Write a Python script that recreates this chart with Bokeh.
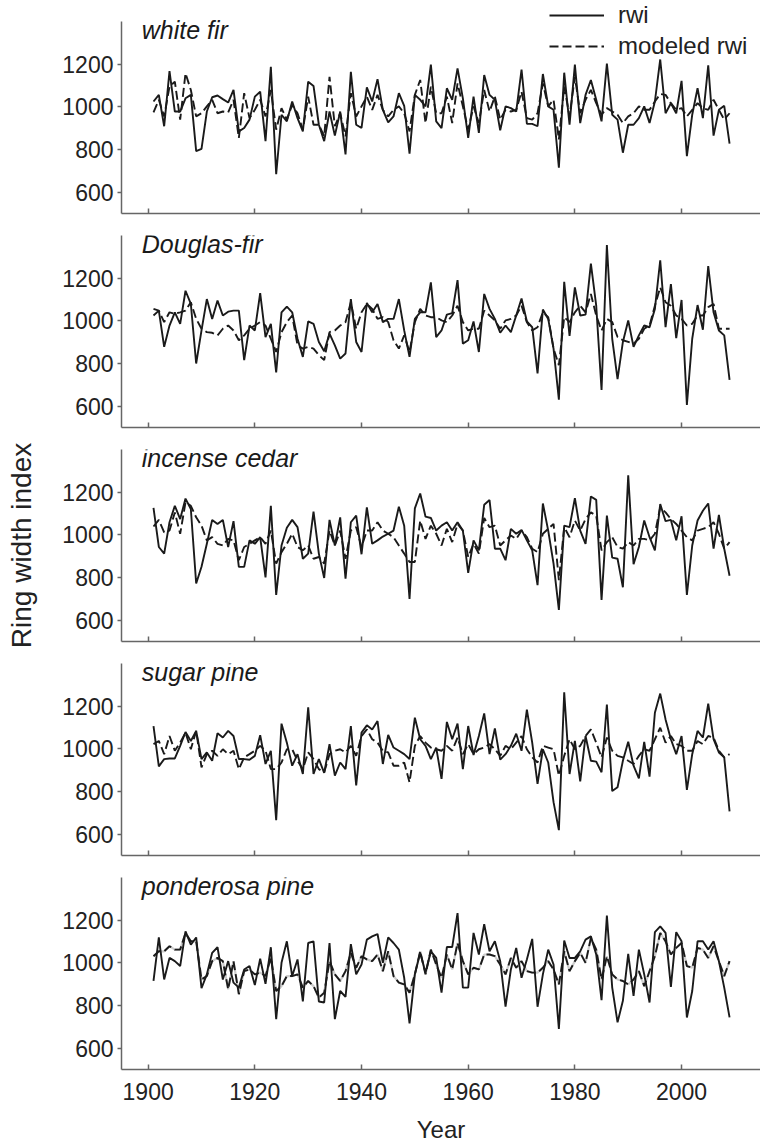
from bokeh.plotting import figure
from bokeh.models import FixedTicker, Label, Legend, LegendItem, Range1d
from bokeh.layouts import column
from bokeh.embed import file_html
from bokeh.resources import INLINE

years = list(range(1901, 2010))

species = ["white fir", "Douglas-fir", "incense cedar", "sugar pine", "ponderosa pine"]

white_fir_rwi = [1025, 1056, 909, 1167, 978, 978, 1040, 1056, 792, 803,
                 978, 1045, 1053, 1036, 1020, 1079, 885, 901, 940, 1048,
                 1071, 839, 1188, 684, 963, 932, 1025, 947, 885, 1118,
                 1098, 916, 839, 978, 865, 978, 777, 1164, 916, 901,
                 1091, 1025, 1130, 986, 927, 955, 1064, 1005, 781, 1056,
                 1033, 1002, 1198, 932, 900, 1087, 1033, 1180, 1040, 854,
                 1048, 878, 1149, 1056, 1033, 890, 1002, 994, 978, 1175,
                 921, 920, 909, 1154, 1002, 986, 715, 1160, 916, 1198,
                 924, 1056, 1126, 1033, 932, 1203, 963, 940, 785, 916,
                 916, 947, 1002, 924, 1025, 1222, 970, 1017, 970, 1122,
                 769, 963, 1087, 947, 1195, 865, 986, 1005, 828]
white_fir_mod = [974, 1033, 955, 1095, 1118, 940, 1157, 1079, 955, 970,
                 1002, 1033, 970, 978, 974, 1033, 854, 1064, 947, 986,
                 1033, 955, 1079, 893, 994, 940, 1009, 970, 893, 1048,
                 916, 916, 862, 1141, 909, 970, 862, 1064, 955, 1002,
                 1048, 986, 1056, 986, 955, 986, 1002, 970, 885, 1056,
                 1126, 924, 1095, 970, 970, 1048, 924, 1110, 1002, 893,
                 1002, 924, 1079, 978, 1048, 940, 986, 978, 986, 1071,
                 947, 940, 970, 1110, 1002, 1033, 847, 1095, 955, 1141,
                 970, 1033, 1079, 1017, 963, 994, 978, 963, 924, 955,
                 970, 1002, 986, 986, 1025, 1060, 1056, 1017, 986, 994,
                 955, 986, 1017, 994, 986, 1033, 986, 940, 970]

douglas_fir_rwi = [1056, 1048, 878, 978, 1040, 986, 1141, 1079, 800, 955,
                   1102, 1009, 1095, 1025, 1043, 1048, 1048, 816, 978, 955,
                   1130, 924, 986, 758, 1040, 1067, 1040, 916, 831, 997,
                   986, 901, 857, 940, 885, 823, 847, 1102, 901, 854,
                   1084, 1040, 1079, 994, 1009, 1009, 1102, 955, 831, 1009,
                   1040, 1040, 1180, 924, 955, 1029, 1036, 1191, 893, 909,
                   997, 854, 1126, 1056, 1009, 944, 978, 947, 1025, 1105,
                   997, 970, 754, 1053, 1009, 870, 630, 1183, 929, 1157,
                   1025, 1029, 1268, 1071, 676, 1355, 916, 727, 901, 1002,
                   878, 932, 978, 970, 1056, 1284, 970, 1172, 919, 1098,
                   606, 916, 1074, 958, 1257, 1040, 955, 932, 723]
douglas_fir_mod = [1025, 1048, 994, 1040, 1033, 1040, 1048, 1087, 1009, 963,
                   947, 944, 932, 963, 978, 955, 909, 932, 963, 978,
                   994, 978, 916, 854, 947, 994, 1025, 885, 870, 878,
                   870, 839, 816, 947, 955, 978, 994, 1087, 963, 1040,
                   1079, 1056, 1009, 1017, 994, 909, 870, 932, 854, 994,
                   1056, 1025, 1017, 1017, 1002, 994, 1025, 1071, 994, 955,
                   963, 963, 1048, 1025, 1002, 963, 1002, 1009, 1025, 1071,
                   994, 955, 970, 1040, 1017, 870, 792, 1017, 994, 1040,
                   1071, 1040, 1126, 1025, 955, 1009, 994, 924, 909, 901,
                   893, 916, 963, 978, 1071, 1157, 1087, 1071, 1025, 1009,
                   978, 986, 1025, 1025, 1064, 1079, 963, 963, 963]

incense_cedar_rwi = [1126, 943, 912, 1059, 1136, 1074, 1170, 1121, 772, 850,
                     958, 1070, 1051, 1070, 943, 1064, 850, 850, 974, 958,
                     989, 800, 1136, 718, 950, 1033, 1070, 1036, 888, 912,
                     1109, 912, 798, 1070, 950, 1082, 795, 1059, 1090, 909,
                     1129, 958, 974, 992, 1005, 1020, 1132, 1043, 699, 1124,
                     1194, 1085, 1079, 1020, 1043, 1059, 1020, 1059, 1020, 822,
                     974, 927, 1141, 1163, 935, 935, 881, 1028, 1005, 1023,
                     974, 927, 764, 1147, 1020, 865, 648, 1043, 1036, 1172,
                     1020, 958, 1180, 1164, 695, 1090, 893, 888, 754, 1279,
                     862, 943, 1067, 989, 927, 1144, 1064, 1070, 974, 1087,
                     718, 950, 1067, 1113, 1147, 935, 1093, 935, 808]
incense_cedar_mod = [1039, 1070, 1012, 1020, 1105, 1005, 1152, 1136, 1082, 1043,
                     974, 989, 958, 950, 981, 974, 881, 943, 958, 974,
                     989, 958, 1020, 865, 919, 958, 1005, 943, 927, 950,
                     888, 896, 865, 1020, 950, 1020, 888, 1020, 1036, 943,
                     1020, 1020, 1059, 1020, 1005, 989, 950, 912, 873, 873,
                     1067, 981, 1043, 1005, 950, 1028, 966, 1051, 1020, 896,
                     958, 912, 1079, 1036, 1043, 950, 974, 997, 981, 1020,
                     989, 935, 919, 1005, 1028, 1051, 788, 1036, 989, 1067,
                     1020, 1074, 1105, 1090, 927, 966, 989, 943, 935, 966,
                     950, 981, 981, 974, 1005, 1129, 1105, 1074, 1051, 1020,
                     989, 974, 1020, 1028, 1036, 1059, 1005, 935, 966]

sugar_pine_rwi = [1107, 918, 952, 955, 955, 1014, 1079, 1037, 1084, 952,
                  983, 944, 1073, 1053, 1084, 1060, 952, 952, 949, 967,
                  1064, 929, 991, 665, 1118, 1029, 921, 975, 882, 1195,
                  882, 952, 887, 1022, 874, 936, 905, 1107, 828, 1076,
                  1110, 1091, 1130, 929, 1065, 1006, 991, 975, 952, 1146,
                  1045, 1014, 952, 1006, 859, 1126, 1045, 1118, 905, 1107,
                  971, 1060, 1166, 975, 1096, 949, 975, 1014, 1071, 991,
                  1184, 1029, 836, 998, 936, 750, 619, 1265, 882, 1037,
                  847, 1060, 944, 940, 890, 1208, 802, 820, 944, 1033,
                  921, 862, 1033, 870, 1169, 1259, 1138, 1045, 975, 1060,
                  808, 975, 1084, 1053, 1212, 1045, 983, 960, 707]
sugar_pine_mod = [1022, 1037, 975, 1060, 991, 1029, 1076, 998, 1084, 913,
                  975, 991, 967, 998, 975, 991, 905, 960, 975, 991,
                  1014, 991, 905, 905, 936, 998, 998, 944, 905, 983,
                  952, 905, 890, 975, 991, 998, 983, 1014, 967, 1060,
                  1091, 1045, 1029, 991, 983, 921, 921, 936, 843, 1014,
                  1060, 1029, 1006, 998, 991, 1014, 991, 1053, 975, 1022,
                  975, 998, 1006, 1022, 998, 967, 1014, 998, 1029, 1060,
                  998, 960, 936, 1014, 1006, 998, 874, 967, 1045, 998,
                  1014, 1060, 1091, 1029, 960, 1053, 991, 967, 960, 944,
                  929, 967, 998, 991, 1045, 1099, 1029, 1060, 1022, 1014,
                  991, 991, 1037, 1022, 1060, 1053, 991, 960, 975]

ponderosa_pine_rwi = [915, 1119, 922, 1023, 1008, 985, 1147, 1085, 1119, 881,
                      946, 1047, 1073, 922, 1008, 907, 884, 969, 985, 896,
                      1019, 902, 1073, 736, 1000, 1101, 938, 1016, 819, 1093,
                      1101, 819, 814, 1093, 736, 868, 840, 1088, 946, 992,
                      1109, 1124, 1135, 1000, 1119, 1093, 1062, 930, 716, 946,
                      1047, 954, 1054, 1023, 860, 1074, 1074, 1233, 884, 884,
                      1140, 1039, 1181, 1054, 1101, 1008, 795, 969, 1070, 930,
                      1016, 1112, 794, 946, 1062, 992, 690, 1105, 1023, 1023,
                      1054, 1109, 1124, 1039, 825, 1222, 884, 721, 822, 1042,
                      845, 1062, 946, 814, 1144, 1171, 1140, 887, 1144, 1101,
                      744, 868, 1101, 1101, 1062, 1101, 1008, 884, 744]
ponderosa_pine_mod = [1031, 1054, 1054, 1078, 1062, 1062, 1140, 1101, 1101, 922,
                      938, 1008, 1023, 1008, 876, 1008, 853, 961, 969, 946,
                      954, 938, 1023, 868, 891, 938, 938, 946, 884, 915,
                      891, 837, 860, 1008, 946, 915, 961, 1047, 977, 1031,
                      1016, 1008, 1039, 961, 1054, 938, 907, 899, 860, 946,
                      1054, 946, 1062, 992, 930, 1039, 969, 1093, 1008, 946,
                      977, 969, 1039, 1039, 1031, 992, 946, 1023, 977, 1008,
                      961, 954, 954, 977, 1008, 969, 899, 1054, 961, 1008,
                      1047, 1000, 1116, 1062, 922, 1031, 946, 922, 915, 899,
                      922, 961, 891, 961, 1031, 1140, 1101, 1039, 1070, 1093,
                      985, 977, 1070, 1062, 1023, 1078, 1008, 938, 1008]

rwi_series = [white_fir_rwi, douglas_fir_rwi, incense_cedar_rwi, sugar_pine_rwi, ponderosa_pine_rwi]
mod_series = [white_fir_mod, douglas_fir_mod, incense_cedar_mod, sugar_pine_mod, ponderosa_pine_mod]

y_ticks = [600, 800, 1000, 1200]
x_ticks = [1900, 1920, 1940, 1960, 1980, 2000]

FONT = "Liberation Sans"
AXIS_COLOR = "#666666"
LINE_COLOR = "#1a1a1a"
TEXT_COLOR = "#222222"

W = 760
LEFT = 121
PX_PER_UNIT = 192 / 900.0
figs = []
for i, name in enumerate(species):
    last = (i == len(species) - 1)
    first = (i == 0)
    # first panel: plotting frame reaches the top edge so the legend above the
    # axis is not clipped; the axis line itself is bounded to 500-1400
    top = 0 if first else 12
    extra = 21 if first else 0
    bottom = 76 if last else 10
    h = top + extra + 192 + bottom
    y_end = 1400 + extra / PX_PER_UNIT
    p = figure(width=W, height=h, output_backend="svg", toolbar_location=None,
               x_range=Range1d(1895, 2014.8), y_range=Range1d(500, y_end),
               min_border_left=LEFT, min_border_right=0,
               min_border_top=top, min_border_bottom=bottom)
    p.outline_line_color = None
    p.grid.visible = False
    p.background_fill_color = "white"
    p.border_fill_color = "white"

    if i == 4:
        p.line(years, mod_series[i], line_color="#cccccc", line_width=2.2)
    r_mod = p.line(years, mod_series[i], line_color=LINE_COLOR, line_width=1.9, line_dash="9 4")
    r_rwi = p.line(years, rwi_series[i], line_color=LINE_COLOR, line_width=1.9)

    # y axis
    p.yaxis.ticker = FixedTicker(ticks=y_ticks)
    p.yaxis.bounds = (500, 1400)
    p.yaxis.axis_line_color = AXIS_COLOR
    p.yaxis.axis_line_width = 1.5
    p.yaxis.major_tick_line_color = AXIS_COLOR
    p.yaxis.major_tick_line_width = 1.5
    p.yaxis.major_tick_in = 0
    p.yaxis.major_tick_out = 4
    p.yaxis.minor_tick_line_color = None
    p.yaxis.major_label_text_font = FONT
    p.yaxis.major_label_text_font_size = "23px"
    p.yaxis.major_label_text_color = TEXT_COLOR
    p.yaxis.major_label_standoff = 4

    # x axis
    p.xaxis.ticker = FixedTicker(ticks=x_ticks)
    p.xaxis.axis_line_color = AXIS_COLOR
    p.xaxis.axis_line_width = 1.5
    p.xaxis.major_tick_line_color = AXIS_COLOR
    p.xaxis.major_tick_line_width = 1.5
    p.xaxis.major_tick_in = 5
    p.xaxis.major_tick_out = 0
    p.xaxis.minor_tick_line_color = None
    p.xaxis.major_label_text_font = FONT
    if last:
        p.xaxis.major_label_text_color = TEXT_COLOR
        p.xaxis.major_label_text_font_size = "23px"
        p.xaxis.major_label_standoff = 13
        p.xaxis.axis_label = "Year"
        p.xaxis.axis_label_text_font = FONT
        p.xaxis.axis_label_text_font_size = "24px"
        p.xaxis.axis_label_text_font_style = "normal"
        p.xaxis.axis_label_text_color = TEXT_COLOR
        p.xaxis.axis_label_standoff = 13
    else:
        # tick marks only: labels are not drawn on the upper panels
        p.xaxis.major_label_text_color = None
        p.xaxis.major_label_text_font_size = "1px"
        p.xaxis.major_label_standoff = 0

    if i == 2:
        p.yaxis.axis_label = "Ring width index"
        p.yaxis.axis_label_text_font = FONT
        p.yaxis.axis_label_text_font_size = "28px"
        p.yaxis.axis_label_text_font_style = "normal"
        p.yaxis.axis_label_text_color = TEXT_COLOR
        p.yaxis.axis_label_standoff = 22

    title = Label(x=1898.8, y=1358, text=name, text_font=FONT, text_font_size="25px",
                  text_font_style="italic", text_color="#1a1a1a", text_baseline="middle")
    p.add_layout(title)

    if first:
        legend = Legend(items=[LegendItem(label="rwi", renderers=[r_rwi]),
                               LegendItem(label="modeled rwi", renderers=[r_mod])],
                        location=(428, 152), orientation="vertical",
                        glyph_width=55, glyph_height=30, label_height=30,
                        label_standoff=14, spacing=1, padding=0, margin=0,
                        label_text_font=FONT, label_text_font_size="24px",
                        label_text_color=TEXT_COLOR,
                        background_fill_alpha=0, border_line_color=None)
        p.add_layout(legend, "center")
    figs.append(p)

layout = column(*figs, spacing=0)
open("out.html", "w").write(file_html(layout, INLINE))
